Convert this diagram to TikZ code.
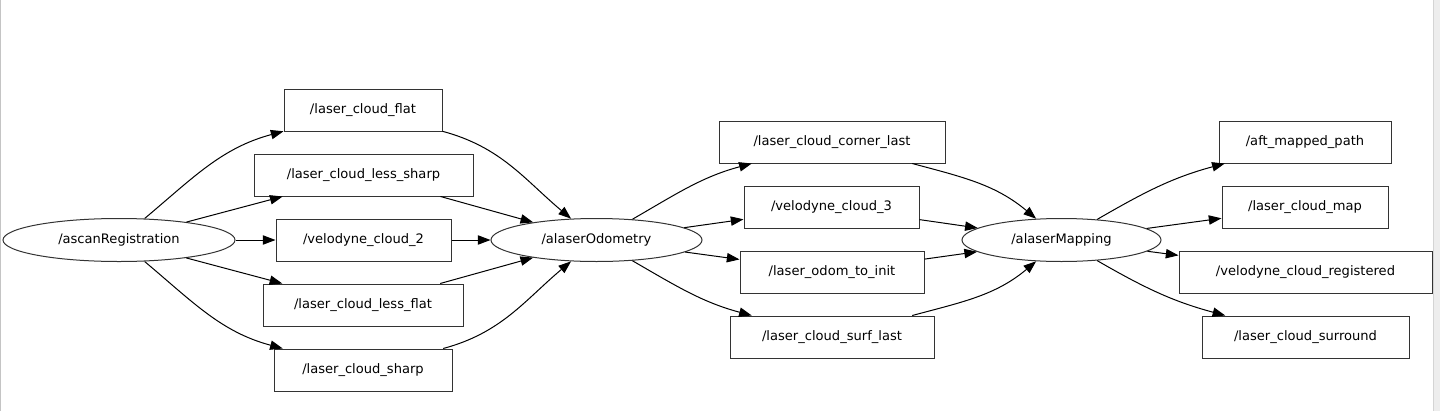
\documentclass[tikz,border=0pt]{standalone}
\usepackage{fontspec}
\setmainfont{DejaVu Sans}
\usetikzlibrary{arrows.meta,shapes.geometric}
\definecolor{okvir}{HTML}{333333}
\definecolor{rub}{HTML}{C4C4C4}
\definecolor{panel}{HTML}{EDEDED}
\definecolor{panelrub}{HTML}{D4D4D4}

\begin{document}
\begin{tikzpicture}[x=0.75pt, y=-0.75pt,
  topic/.style={rectangle, draw=okvir, line width=0.75pt, minimum height=31.5pt,
                inner sep=0pt, font=\fontsize{9.8}{12}\selectfont},
  cvor/.style={ellipse, draw=okvir, line width=0.75pt, minimum height=32.25pt,
               inner sep=0pt, font=\fontsize{9.8}{12}\selectfont},
  veza/.style={draw=black, line width=0.75pt, -{Triangle[length=9.5pt,width=7pt]}}
]
\useasboundingbox (0,0) rectangle (1440,411);
\fill[white] (0,0) rectangle (1440,411);
\fill[panel] (1433,0) rectangle (1440,411);
\draw[panelrub, line width=0.75pt] (1433.5,0) -- (1433.5,411);
\draw[rub, line width=0.75pt] (0.5,0) -- (0.5,411);

% cvorovi
\node[cvor, minimum width=174pt] (asr) at (119,240) {/ascanRegistration};
\node[cvor, minimum width=158.25pt] (odo) at (596.5,240) {/alaserOdometry};
\node[cvor, minimum width=149.25pt] (mapn) at (1061.5,240) {/alaserMapping};

% teme, prva kolona
\node[topic, minimum width=118.5pt] (flat) at (363,110) {/laser\_cloud\_flat};
\node[topic, minimum width=164.25pt] (lsharp) at (363.5,175) {/laser\_cloud\_less\_sharp};
\node[topic, minimum width=131.25pt] (vel2) at (363.5,240) {/velodyne\_cloud\_2};
\node[topic, minimum width=150pt] (lflat) at (363,305) {/laser\_cloud\_less\_flat};
\node[topic, minimum width=133.5pt] (sharp) at (363,370) {/laser\_cloud\_sharp};

% teme, druga kolona
\node[topic, minimum width=169.5pt] (corner) at (832,142) {/laser\_cloud\_corner\_last};
\node[topic, minimum width=131.25pt] (vel3) at (831.5,207) {/velodyne\_cloud\_3};
\node[topic, minimum width=138pt] (init) at (832,272) {/laser\_odom\_to\_init};
\node[topic, minimum width=153pt] (surf) at (832,337) {/laser\_cloud\_surf\_last};

% teme, treca kolona
\node[topic, minimum width=129pt] (aft) at (1305,142) {/aft\_mapped\_path};
\node[topic, minimum width=124.5pt] (cmap) at (1305,207) {/laser\_cloud\_map};
\node[topic, minimum width=189.75pt] (reg) at (1305.5,272) {/velodyne\_cloud\_registered};
\node[topic, minimum width=155.25pt] (surr) at (1305.5,337) {/laser\_cloud\_surround};

% veze
\draw[veza] (asr) to[out=40,in=195] (flat);
\draw[veza] (asr) -- (lsharp);
\draw[veza] (asr) -- (vel2);
\draw[veza] (asr) -- (lflat);
\draw[veza] (asr) to[out=-40,in=165] (sharp);

\draw[veza] (flat) to[out=-15,in=140] (odo);
\draw[veza] (lsharp) -- (odo);
\draw[veza] (vel2) -- (odo);
\draw[veza] (lflat) -- (odo);
\draw[veza] (sharp) to[out=15,in=-140] (odo);

\draw[veza] (odo) to[out=30,in=195] (corner);
\draw[veza] (odo) -- (vel3);
\draw[veza] (odo) -- (init);
\draw[veza] (odo) to[out=-30,in=165] (surf);

\draw[veza] (corner) to[out=-15,in=140] (mapn);
\draw[veza] (vel3) -- (mapn);
\draw[veza] (init) -- (mapn);
\draw[veza] (surf) to[out=15,in=-140] (mapn);

\draw[veza] (mapn) to[out=30,in=195] (aft);
\draw[veza] (mapn) -- (cmap);
\draw[veza] (mapn) -- (reg);
\draw[veza] (mapn) to[out=-30,in=165] (surr);
\end{tikzpicture}
\end{document}
